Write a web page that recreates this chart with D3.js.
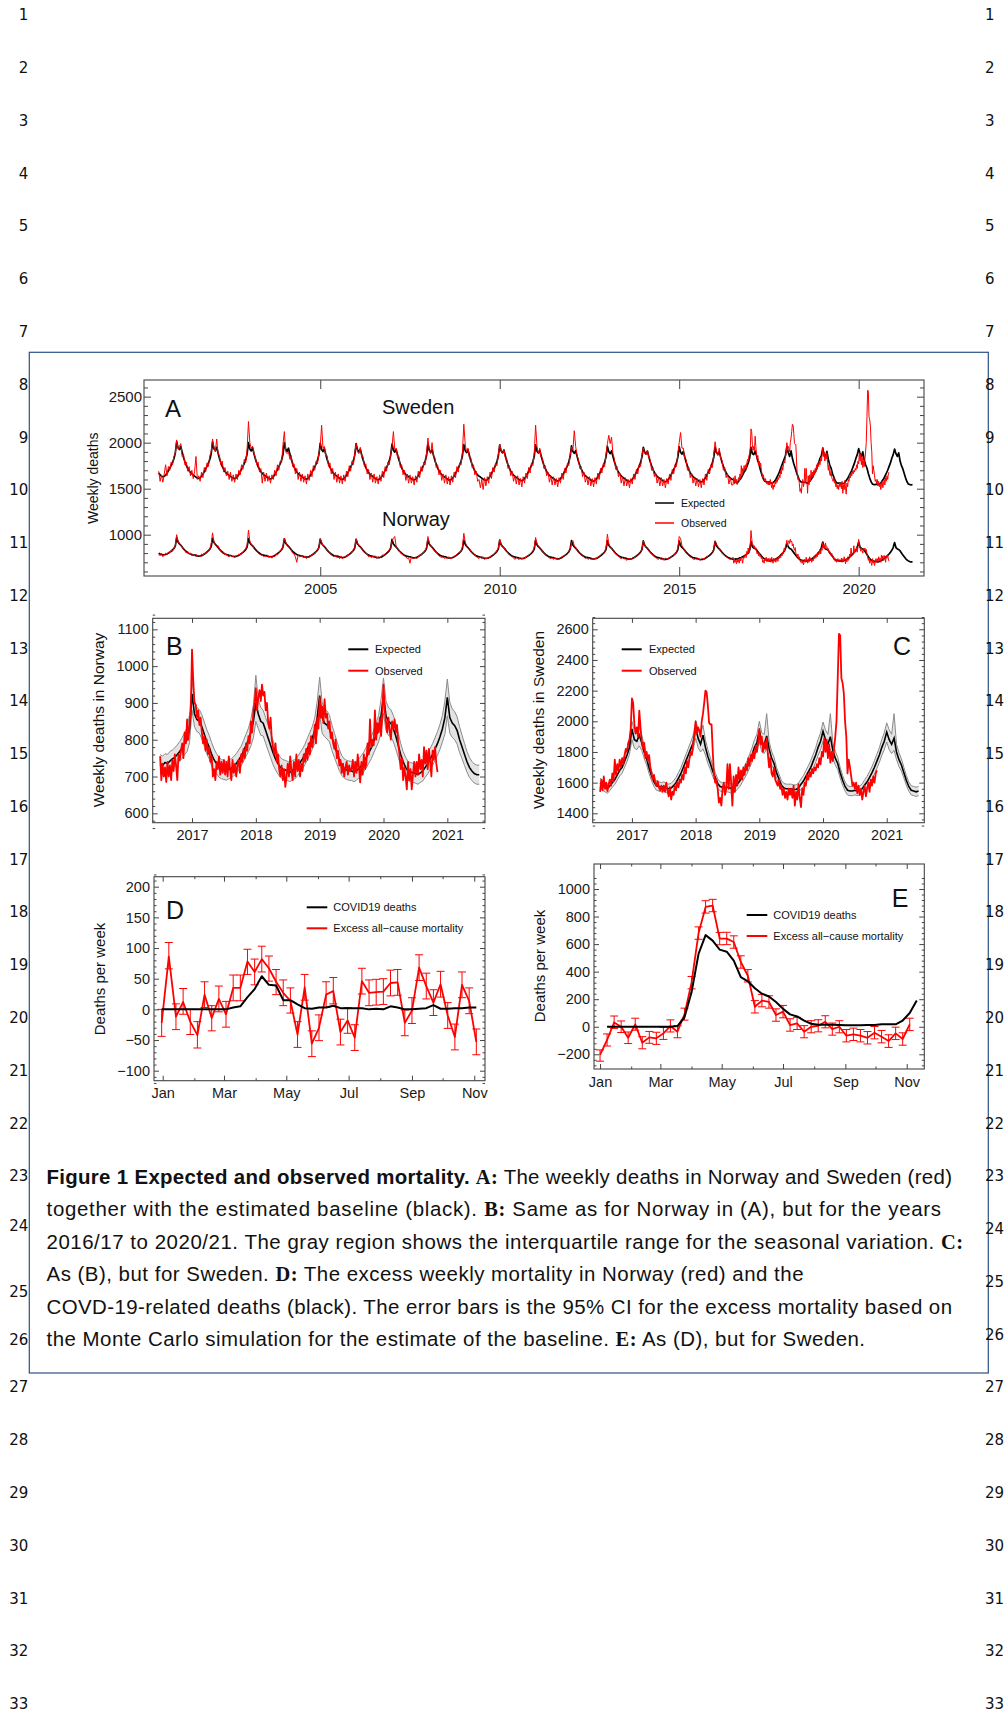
<!DOCTYPE html>
<html><head><meta charset="utf-8">
<script src="https://cdn.jsdelivr.net/npm/d3@7"></script>
<style>
body{margin:0;background:#fff;}
svg{display:block;}
</style></head><body>
<svg id="fig" width="1008" height="1712"></svg>
<script>
// ---------------- DATA ----------------
// Panel A, 2000.5–2016.5, one value every 2 weeks (26 per season, season starts 1 July)
const aSweExp = [
1670,1650,1635,1630,1635,1648,1668,1695,1722,1752,1784,1825,1885,2010,1945,1925,1960,1895,1838,1792,1752,1720,1695,1676,1660,1648,
1637,1625,1615,1612,1619,1635,1657,1685,1715,1745,1777,1817,1877,2005,1935,1915,1950,1885,1828,1782,1742,1712,1687,1669,1655,1645,
1634,1622,1612,1609,1616,1632,1654,1682,1712,1742,1774,1814,1874,2000,1930,1910,1945,1880,1824,1779,1739,1709,1684,1666,1652,1642,
1631,1619,1609,1606,1613,1629,1651,1679,1709,1739,1771,1811,1871,2000,1928,1906,1940,1876,1821,1776,1736,1706,1681,1663,1649,1639,
1628,1616,1606,1603,1610,1626,1648,1676,1706,1736,1768,1808,1868,1995,1925,1903,1935,1873,1818,1773,1733,1703,1678,1660,1646,1636,
1625,1613,1603,1600,1607,1623,1645,1673,1703,1733,1765,1805,1865,1990,1922,1900,1930,1870,1815,1770,1730,1700,1675,1657,1643,1633,
1622,1610,1600,1597,1604,1620,1642,1670,1700,1730,1762,1802,1862,1985,1918,1897,1927,1867,1812,1767,1727,1697,1672,1654,1640,1630,
1620,1608,1598,1595,1602,1618,1640,1668,1698,1728,1760,1800,1860,1985,1915,1895,1925,1865,1810,1765,1725,1695,1670,1652,1638,1628,
1618,1606,1596,1593,1600,1616,1638,1666,1696,1726,1758,1798,1858,1980,1913,1893,1923,1863,1808,1763,1723,1693,1668,1650,1636,1626,
1615,1603,1593,1590,1597,1613,1635,1663,1693,1723,1755,1795,1855,1975,1910,1890,1920,1860,1805,1760,1720,1690,1665,1647,1633,1623,
1612,1600,1590,1587,1594,1610,1632,1660,1690,1720,1752,1792,1852,1975,1907,1887,1917,1857,1802,1757,1717,1687,1662,1644,1630,1620,
1609,1597,1587,1584,1591,1607,1629,1657,1687,1717,1749,1789,1849,1965,1904,1884,1914,1854,1799,1754,1714,1684,1659,1641,1627,1617,
1606,1594,1584,1581,1588,1604,1626,1654,1684,1714,1746,1786,1846,1960,1901,1881,1911,1851,1796,1751,1711,1681,1656,1638,1624,1614,
1603,1591,1581,1578,1585,1601,1623,1651,1681,1711,1743,1783,1843,1950,1898,1878,1908,1848,1793,1748,1708,1678,1653,1635,1621,1611,
1600,1588,1578,1575,1582,1598,1620,1648,1678,1708,1740,1780,1840,1955,1895,1875,1905,1845,1790,1745,1705,1675,1650,1632,1618,1608,
1598,1586,1576,1573,1580,1596,1618,1646,1676,1706,1738,1778,1838,1950,1893,1873,1903,1843,1788,1743,1703,1673,1648,1630,1616,1606];
const aSweObs = [
1690,1580,1650,1570,1660,1760,1640,1740,1700,1790,1760,1850,1880,2030,1930,1960,1990,1850,1870,1760,1790,1690,1740,1640,1700,1610,
1690,1850,1600,1640,1580,1680,1620,1730,1680,1780,1740,1860,1900,2040,1950,1900,2040,1880,1860,1760,1800,1680,1730,1640,1690,1600,
1680,1580,1650,1570,1660,1600,1700,1650,1760,1710,1820,1780,1920,2230,2000,1940,1960,1880,1840,1760,1790,1680,1720,1560,1680,1580,
1670,1580,1640,1560,1650,1600,1700,1640,1760,1700,1800,1780,1980,2120,1900,1880,1900,1820,1860,1740,1770,1660,1720,1600,1680,1580,
1660,1570,1640,1550,1660,1590,1700,1630,1750,1700,1800,1770,1880,1960,2190,1940,1960,1850,1860,1740,1780,1660,1720,1600,1680,1570,
1660,1560,1640,1550,1650,1580,1690,1630,1750,1690,1800,1760,1880,1990,1900,1880,1950,1840,1850,1740,1770,1660,1710,1600,1670,1570,
1660,1560,1630,1550,1650,1580,1690,1620,1740,1690,1790,1760,1870,1960,2120,1920,1940,1840,1850,1730,1760,1650,1700,1590,1660,1560,
1650,1560,1630,1540,1640,1570,1690,1620,1740,1690,1790,1760,1890,2050,1910,1880,2000,1850,1840,1730,1760,1650,1700,1590,1660,1560,
1650,1550,1630,1540,1640,1570,1680,1620,1740,1680,1780,1760,1900,2200,1980,1900,1940,1840,1840,1730,1760,1650,1690,1580,1600,1510,
1600,1490,1620,1530,1630,1560,1680,1610,1730,1680,1780,1750,1870,1980,1920,1880,1930,1840,1830,1720,1750,1640,1690,1580,1640,1550,
1640,1540,1610,1520,1630,1560,1670,1610,1730,1670,1780,1750,1880,2190,1960,1880,1940,1840,1830,1720,1750,1640,1680,1570,1640,1540,
1630,1540,1610,1520,1620,1560,1670,1600,1720,1670,1770,1750,1860,1950,1920,2130,1960,1860,1820,1720,1740,1630,1680,1570,1630,1540,
1630,1530,1610,1520,1620,1550,1670,1600,1720,1670,1770,1740,1870,1990,2080,1990,2060,1880,1830,1710,1740,1630,1670,1560,1630,1530,
1620,1530,1600,1510,1610,1550,1660,1600,1710,1660,1760,1740,1860,1940,1880,1870,1920,1830,1820,1700,1730,1630,1670,1560,1620,1530,
1620,1530,1600,1510,1610,1550,1660,1590,1710,1660,1760,1740,1880,2000,2110,1940,1940,1830,1820,1700,1730,1620,1670,1560,1620,1530,
1610,1520,1600,1510,1610,1540,1660,1590,1710,1660,1760,1730,1870,2010,1900,1860,1940,1830,1810,1700,1730,1620,1660,1550,1620,1540];
const aNorExp = [
800,790,785,780,782,785,790,800,810,820,835,850,875,965,920,900,885,865,845,830,815,805,795,790,785,780,
778,772,768,766,768,772,780,790,800,812,826,842,870,960,915,895,880,862,842,826,812,800,790,784,780,776,
774,768,764,762,764,768,776,786,796,808,822,838,866,958,912,892,878,860,840,824,810,798,788,782,778,774,
772,766,762,760,762,766,774,784,794,806,820,836,864,955,908,888,874,856,836,820,806,794,784,778,774,770,
768,762,758,756,758,762,770,780,790,802,816,832,860,952,905,885,870,852,832,816,802,790,780,774,770,766,
764,758,754,752,754,758,766,776,786,798,812,828,856,950,902,882,868,850,830,814,800,788,778,772,768,764,
762,756,752,750,752,756,764,774,784,796,810,826,854,948,900,880,866,848,828,812,798,786,776,770,766,762,
760,754,750,748,750,754,762,772,782,794,808,824,852,945,898,878,864,846,826,810,796,784,774,768,764,760,
758,752,748,746,748,752,760,770,780,792,806,822,850,942,895,875,860,842,822,806,792,780,770,764,760,756,
754,748,744,742,744,748,756,766,776,788,802,818,846,940,892,872,858,840,820,804,790,778,768,762,758,754,
752,746,742,740,742,746,754,764,774,786,800,816,844,938,890,870,856,838,818,802,788,776,766,760,756,752,
750,744,740,738,740,744,752,762,772,784,798,814,842,935,888,868,854,836,816,800,786,774,764,758,754,750,
748,742,738,736,738,742,750,760,770,782,796,812,840,934,886,866,852,834,814,798,784,772,762,756,752,748,
746,740,736,734,736,740,748,758,768,780,794,810,838,932,884,864,850,832,812,796,782,770,760,754,750,746,
744,738,734,732,734,738,746,756,766,778,792,808,836,930,882,862,848,830,810,794,780,768,758,752,748,744,
742,736,732,730,732,736,744,754,764,776,790,806,834,928,880,860,846,828,808,792,778,766,756,748,742,738];
const aNorObs = [
790,770,800,760,780,800,785,810,800,830,820,850,880,1000,930,900,880,870,840,830,800,820,790,800,770,790,
770,790,760,775,760,790,775,800,790,820,830,840,900,1020,920,890,870,880,840,820,800,810,780,790,770,760,
780,760,770,750,775,760,790,780,800,810,830,845,880,1050,930,890,885,850,830,820,800,790,780,775,760,770,
760,780,750,770,745,775,760,790,780,800,830,830,870,960,920,880,870,850,830,800,790,760,700,780,760,770,
760,750,770,740,765,750,775,770,795,790,820,830,860,955,920,880,870,850,830,810,800,780,770,760,780,750,
760,740,770,740,750,765,760,780,790,800,810,840,850,955,900,890,870,850,820,810,800,790,760,770,750,770,
750,770,740,760,745,760,780,770,790,800,820,830,860,930,960,980,870,850,830,810,790,780,770,760,740,750,
690,760,740,745,755,740,760,780,780,790,810,830,860,980,910,880,860,840,820,810,790,770,760,750,760,740,
750,740,760,735,750,755,760,770,790,800,810,820,870,1015,920,880,860,850,820,800,790,780,760,750,740,760,
740,760,730,745,740,750,760,770,780,790,800,830,850,950,890,870,860,840,820,800,780,770,760,750,730,750,
740,730,750,735,745,740,760,770,775,790,800,820,860,970,900,880,850,840,815,800,780,770,760,745,740,750,
730,750,735,745,730,750,760,770,770,790,800,820,840,910,935,880,860,830,810,800,780,770,760,740,750,730,
745,730,740,725,745,740,755,760,780,790,800,810,850,1005,900,870,850,830,810,790,780,770,750,740,750,735,
740,720,745,730,735,745,745,755,770,780,800,810,840,930,890,860,850,830,810,790,780,760,750,740,730,745,
725,740,720,745,735,740,750,760,770,780,790,810,850,980,960,880,850,830,800,790,770,760,750,740,725,740,
730,745,720,735,740,730,750,760,770,780,800,810,840,930,900,870,850,820,800,790,770,760,750,740,730,740];

// Panels B (Norway) and C (Sweden): 2016.5–2021.5, expected + interquartile band every 2 weeks
const bExp = [
735,730,738,735,742,748,752,760,768,778,790,800,830,925,870,855,850,835,815,795,780,760,745,735,725,720,
718,715,720,722,728,735,745,755,770,785,800,820,850,900,870,850,845,825,805,785,765,748,735,725,720,718,
715,712,718,720,728,738,748,760,775,790,805,825,860,920,860,845,840,830,805,785,765,745,730,722,718,716,
715,712,716,722,730,740,752,765,778,795,812,830,865,920,865,850,845,830,810,785,760,740,725,715,712,710,
708,705,710,715,725,735,748,760,775,790,808,830,860,915,860,845,838,825,800,780,760,740,725,715,708,705,705];
const bHigh = [
760,755,762,760,768,772,778,786,795,806,820,832,868,960,905,888,882,868,848,828,812,792,775,762,752,746,
744,740,746,748,754,762,772,782,798,815,832,856,895,975,910,888,880,860,840,818,798,778,763,752,746,744,
741,738,744,746,754,765,775,788,804,820,836,860,905,970,902,882,878,866,840,818,796,774,757,748,744,742,
741,738,742,748,757,767,780,794,808,826,845,866,910,968,905,888,882,866,845,818,790,768,752,741,738,736,
734,731,736,742,752,763,776,790,806,822,842,866,905,965,902,884,876,862,835,812,790,768,752,741,734,731,731];
const bLow = [
710,705,713,710,716,722,726,734,741,750,760,768,792,880,835,822,818,802,782,762,748,728,715,708,698,694,
692,690,694,696,702,708,718,728,742,755,768,784,805,850,830,812,810,790,770,752,732,718,707,698,694,692,
689,686,692,694,702,711,721,732,746,760,774,790,815,870,818,808,802,794,770,752,734,716,703,696,692,690,
689,686,690,696,703,713,724,736,748,764,779,794,820,872,825,812,808,794,775,752,730,712,698,689,686,684,
682,679,684,688,698,707,720,730,744,758,774,794,815,865,818,806,800,788,765,748,730,712,698,689,682,679,679];
// observed, weekly from 2016.5
const bObs = [
755,690,735,700,725,685,740,700,730,690,745,715,760,730,690,760,745,770,790,750,820,790,855,800,840,880,1045,960,900,895,860,880,840,860,820,790,810,770,800,760,780,740,755,700,720,690,740,720,755,705,740,710,
745,705,740,700,755,720,690,745,710,735,700,730,745,710,760,740,775,750,790,770,810,790,850,820,880,900,940,880,915,935,905,950,920,930,880,900,850,830,860,800,780,760,790,740,760,720,700,730,690,720,672,700,
735,700,755,715,690,740,700,760,715,745,700,735,715,760,740,775,745,790,760,810,780,800,840,790,860,830,915,860,890,845,910,860,870,830,850,805,820,790,775,800,750,770,730,745,710,735,700,725,740,705,730,715,
720,745,700,740,710,760,725,684,740,705,760,720,735,790,760,855,780,800,785,880,800,845,820,860,810,870,950,880,850,820,860,825,800,850,830,855,820,840,790,760,720,750,690,725,700,665,740,690,720,665,705,740,
700,740,705,760,720,745,700,780,735,770,720,775,740,700,770,745,780,735,712];
const cExp = [
1600,1580,1570,1560,1580,1600,1620,1650,1680,1700,1740,1780,1830,1950,1880,1870,1910,1860,1800,1755,1695,1645,1605,1580,1575,1570,
1575,1565,1560,1565,1580,1600,1630,1660,1700,1740,1780,1820,1860,1960,1890,1850,1910,1830,1770,1725,1675,1635,1595,1575,1570,1570,
1570,1565,1560,1570,1590,1610,1640,1670,1700,1740,1780,1830,1860,1940,1860,1850,1905,1820,1760,1725,1665,1625,1585,1565,1560,1560,
1560,1555,1555,1565,1590,1610,1640,1670,1700,1740,1780,1830,1870,1935,1880,1850,1900,1810,1760,1725,1665,1615,1575,1550,1545,1545,
1550,1545,1548,1560,1585,1605,1635,1665,1700,1740,1780,1830,1870,1930,1880,1850,1890,1800,1750,1715,1665,1615,1575,1550,1545,1540,1545];
const cHigh = [
1630,1610,1600,1590,1610,1630,1652,1684,1716,1738,1780,1822,1875,2000,1935,1925,1960,1910,1842,1795,1731,1677,1635,1610,1605,1600,
1605,1595,1590,1596,1612,1634,1666,1698,1740,1782,1824,1866,1910,2005,1950,1915,1975,1880,1815,1765,1710,1667,1625,1605,1600,1600,
1600,1595,1590,1602,1624,1646,1678,1710,1742,1784,1826,1880,1915,2000,1925,1915,2050,1870,1805,1765,1700,1657,1615,1595,1590,1590,
1590,1585,1585,1597,1624,1646,1678,1710,1744,1786,1828,1882,1925,1995,1945,1915,2050,1860,1805,1765,1700,1647,1605,1580,1575,1575,
1580,1575,1578,1592,1619,1641,1673,1705,1744,1786,1828,1882,1925,1990,1945,1915,2050,1850,1795,1755,1700,1647,1605,1580,1575,1570,1575];
const cLow = [
1570,1550,1540,1530,1550,1570,1588,1616,1644,1662,1700,1738,1785,1880,1825,1815,1840,1810,1758,1715,1659,1613,1575,1550,1545,1540,
1545,1535,1530,1534,1548,1566,1594,1622,1660,1698,1736,1774,1810,1890,1830,1800,1820,1780,1725,1685,1640,1603,1565,1545,1540,1540,
1540,1535,1530,1538,1556,1574,1602,1630,1658,1696,1734,1780,1805,1870,1800,1790,1820,1770,1715,1685,1630,1593,1555,1535,1530,1530,
1530,1525,1525,1533,1556,1574,1602,1630,1656,1694,1732,1778,1815,1870,1815,1790,1820,1760,1715,1685,1630,1583,1545,1520,1515,1515,
1520,1515,1518,1528,1551,1569,1597,1625,1656,1694,1732,1778,1815,1865,1815,1790,1810,1750,1705,1675,1630,1583,1545,1520,1515,1510,1515];
const cObs = [
1540,1620,1550,1640,1560,1600,1545,1590,1620,1580,1660,1610,1750,1650,1720,1680,1750,1700,1760,1720,1780,1820,1800,1860,1880,1950,2150,2120,1980,1920,1960,1900,2070,1960,1870,1820,1860,1760,1800,1740,1780,1700,1660,1620,1650,1600,1580,1610,1570,1550,1580,1540,
1580,1540,1600,1550,1510,1570,1490,1540,1520,1580,1550,1600,1570,1620,1600,1650,1620,1700,1660,1740,1700,1760,1800,1780,1860,1900,2000,1920,1960,1940,1900,2000,2050,2120,2200,2190,2100,1990,1980,1980,1800,1650,1600,1620,1560,1470,1500,1450,1560,1600,1520,1560,
1720,1560,1720,1600,1450,1640,1540,1650,1580,1700,1620,1680,1620,1700,1650,1720,1680,1760,1710,1780,1740,1800,1760,1840,1800,1860,1950,1850,1900,1800,1860,1820,1890,1780,1700,1760,1660,1640,1700,1620,1600,1580,1620,1560,1580,1520,1560,1500,1540,1490,1560,1520,
1560,1500,1580,1450,1540,1490,1590,1500,1440,1560,1520,1600,1580,1650,1620,1670,1640,1690,1660,1700,1680,1720,1700,1760,1720,1800,1770,1890,1800,1880,1760,1850,1730,1800,1740,1820,1900,2000,2280,2570,2560,2280,2250,2180,2000,1900,1660,1750,1700,1640,1580,1600,
1560,1600,1530,1580,1520,1560,1490,1540,1580,1510,1560,1600,1540,1620,1580,1640,1600,1660,1680];

// Panel D (Norway 2020), weekly from 31 Dec 2019
const dExcess = [-22,86,-12,12,-20,-42,24,-14,17,-8,35,35,78,61,82,67,45,27,14,-41,36,-56,-30,24,30,-37,-18,-46,46,27,28,29,43,44,-22,-2,68,38,11,41,-10,-45,40,14,-53];
const dLow  = [-44,66,-33,-8,-41,-63,3,-35,-4,-29,14,14,57,40,61,46,24,6,-6,-62,15,-77,-51,3,9,-58,-39,-67,25,6,7,8,22,23,-43,-23,47,17,-10,20,-31,-66,19,-7,-74];
const dHigh = [0,109,9,34,0,-20,45,6,38,13,56,56,98,82,103,87,65,48,35,-20,57,-35,-9,45,52,-16,3,-25,67,48,49,50,64,65,-1,19,89,59,32,62,11,-24,61,35,-32];
const dCovid = [0,0,0,0,0,0,0,0,0,0,3,5,20,33,54,40,39,15,15,8,2,1,3,3,6,2,2,2,2,0,1,0,5,3,0,0,1,2,7,1,1,2,2,3,3];
// Panel E (Sweden 2020), excess weekly from 1 Jan 2020, COVID-19 deaths weekly from 8 Jan 2020
const eExcess = [-205,-96,31,0,-80,17,-116,-77,-84,-48,5,-36,90,320,680,870,880,640,640,615,470,370,145,190,180,85,110,12,24,-36,0,7,36,-17,0,-65,-55,-65,-80,-43,-72,-104,-48,-89,17];
const eLow  = [-250,-140,-12,-42,-122,-25,-160,-120,-128,-92,-38,-80,48,275,635,825,835,595,596,570,425,325,100,145,135,40,65,-32,-20,-80,-44,-37,-8,-61,-44,-110,-100,-110,-125,-88,-117,-150,-93,-134,-28];
const eHigh = [-168,-52,78,42,-38,62,-72,-34,-40,-4,50,8,135,365,725,915,925,685,686,660,515,415,190,235,225,130,155,58,68,8,44,51,80,27,44,-20,-10,-20,-35,2,-27,-58,-3,-44,62];
const eCovid = [0,0,0,0,0,0,0,0,0,0,5,70,250,530,665,625,560,545,480,360,330,280,240,220,180,130,90,75,45,22,15,15,15,12,10,10,10,12,12,18,18,18,45,100,190];

// tick values / labels
const aYearTicks = [2005, 2010, 2015, 2020];
const aYTicks = [1000, 1500, 2000, 2500];
const bcYearTicks = [2017, 2018, 2019, 2020, 2021];
const bYTicks = [600, 700, 800, 900, 1000, 1100];
const cYTicks = [1400, 1600, 1800, 2000, 2200, 2400, 2600];
const dYTicks = [-100, -50, 0, 50, 100, 150, 200];
const eYTicks = [-200, 0, 200, 400, 600, 800, 1000];
const monthMajor = [0, 2, 4, 6, 8, 10];   // Jan, Mar, May, Jul, Sep, Nov
const monthMinor = [1, 3, 5, 7, 9];

// ---------------- DRAWING ----------------
const FONT = '"Liberation Sans", Arial, Helvetica, sans-serif';
const svg = d3.select('#fig');
svg.append('rect').attr('width', 1008).attr('height', 1712).attr('fill', '#fff');

function axisSet(g, scale, orient, at, values, len, fmt, fs, pad) {
  const A = {bottom: d3.axisBottom, top: d3.axisTop, left: d3.axisLeft, right: d3.axisRight}[orient];
  const ax = A(scale).tickValues(values).tickSizeInner(-len).tickSizeOuter(0).tickPadding(pad || 0)
    .tickFormat(fmt || (() => ''));
  const tr = (orient === 'bottom' || orient === 'top') ? `translate(0,${at})` : `translate(${at},0)`;
  const s = g.append('g').attr('transform', tr).call(ax);
  s.select('.domain').remove();
  s.selectAll('.tick line').attr('stroke', '#444').attr('stroke-width', 1);
  s.selectAll('.tick text').attr('font-size', fs).attr('fill', '#1a1a1a').attr('font-family', FONT);
  return s;
}
function minorVals(lo, hi, step, majors) {
  const out = [];
  for (let v = lo; v <= hi + 1e-9; v += step) if (!majors.some(m => Math.abs(m - v) < 1e-6)) out.push(v);
  return out;
}
let clipId = 0;
function makePanel(x, y, cfg) {
  const [X0, X1] = x.range(), [Y1, Y0] = y.range();
  const g = svg.append('g');
  const id = 'clip' + (clipId++);
  g.append('clipPath').attr('id', id).append('rect').attr('x', X0).attr('y', Y0).attr('width', X1 - X0).attr('height', Y1 - Y0);
  const data = g.append('g').attr('clip-path', `url(#${id})`);
  const deco = svg.append('g');
  deco.append('rect').attr('x', X0).attr('y', Y0).attr('width', X1 - X0).attr('height', Y1 - Y0)
    .attr('fill', 'none').attr('stroke', '#444').attr('stroke-width', 1.1);
  axisSet(deco, x, 'bottom', Y1, cfg.xMaj, cfg.xLen, cfg.xFmt, cfg.fs, cfg.xPad);
  axisSet(deco, x, 'top', Y0, cfg.xMaj, cfg.xLen, null, cfg.fs, 0);
  if (cfg.xMin) {
    axisSet(deco, x, 'bottom', Y1, cfg.xMin, cfg.xMinLen, null, cfg.fs, 0);
    axisSet(deco, x, 'top', Y0, cfg.xMin, cfg.xMinLen, null, cfg.fs, 0);
  }
  axisSet(deco, y, 'left', X0, cfg.yMaj, cfg.yLen, cfg.yFmt || d3.format('d'), cfg.fs, cfg.yPad);
  axisSet(deco, y, 'right', X1, cfg.yMaj, cfg.yLen, null, cfg.fs, 0);
  axisSet(deco, y, 'left', X0, cfg.yMin, cfg.yMinLen, null, cfg.fs, 0);
  axisSet(deco, y, 'right', X1, cfg.yMin, cfg.yMinLen, null, cfg.fs, 0);
  deco.selectAll('.tick text').text(function () { return this.textContent.replace('-', '\u2212'); });
  return {data, deco};
}
function text(g, s, x, y, fs, anchor) {
  return g.append('text').attr('x', x).attr('y', y).attr('font-size', fs).attr('font-family', FONT)
    .attr('fill', '#111').attr('text-anchor', anchor || 'start').text(s);
}
function yTitle(g, s, cx, cy, fs) {
  g.append('text').attr('transform', `translate(${cx},${cy}) rotate(-90)`).attr('text-anchor', 'middle')
    .attr('dominant-baseline', 'central').attr('font-size', fs).attr('font-family', FONT).attr('fill', '#111').text(s);
}
function legend(g, items, x0, x1, tx, fs, lw) {
  items.forEach(it => {
    g.append('line').attr('x1', x0).attr('x2', x1).attr('y1', it.y).attr('y2', it.y)
      .attr('stroke', it.c).attr('stroke-width', lw);
    text(g, it.t, tx, it.y + fs * 0.36, fs);
  });
}
const lineXY = (x, y) => d3.line().x(d => x(d[0])).y(d => y(d[1]));

// ----- Panel A -----
{
  const x = d3.scaleLinear().domain([2000.09, 2021.82]).range([144, 924]);
  const y = d3.scaleLinear().domain([551, 2681]).range([576, 380]);
  const P = makePanel(x, y, {
    xMaj: aYearTicks, xLen: 9, xFmt: d3.format('d'), xPad: 7, fs: 15,
    yMaj: aYTicks, yLen: 7, yMin: minorVals(600, 2600, 100, aYTicks), yMinLen: 4, yPad: 2
  });
  const swExp = aSweExp.map((v, i) => [2000.5 + i / 26, v]).concat(cExp.map((v, j) => [2016.5 + j / 26, v]));
  const swObs = aSweObs.map((v, i) => [2000.5 + i / 26, v]).concat(cObs.map((v, j) => [2016.5 + j / 52, v]));
  const noExp = aNorExp.map((v, i) => [2000.5 + i / 26, v]).concat(bExp.map((v, j) => [2016.5 + j / 26, v]));
  const noObs = aNorObs.map((v, i) => [2000.5 + i / 26, v]).concat(bObs.map((v, j) => [2016.5 + j / 52, v]));
  const L = lineXY(x, y);
  [swExp, noExp].forEach(d => P.data.append('path').attr('d', L(d)).attr('fill', 'none').attr('stroke', '#000').attr('stroke-width', 1.7).attr('stroke-linejoin', 'round'));
  [swObs, noObs].forEach(d => P.data.append('path').attr('d', L(d)).attr('fill', 'none').attr('stroke', '#ff0000').attr('stroke-width', 1.0).attr('stroke-linejoin', 'round'));
  text(P.deco, 'A', 165, 417, 24);
  text(P.deco, 'Sweden', 382, 414, 20);
  text(P.deco, 'Norway', 382, 526, 20);
  legend(P.deco, [{c: '#000', t: 'Expected', y: 503}, {c: '#ff0000', t: 'Observed', y: 523}], 655, 674, 681, 10.5, 1.5);
  yTitle(P.deco, 'Weekly deaths', 92.7, 478.3, 14);
}

// ----- Panels B and C -----
function seasonal(X0, X1, yDom, yMaj, yMinStep, exp, lo, hi, obs, letter, letterX, letterAnchor, title, titleX, leg) {
  const x = d3.scaleLinear().domain([2016.384, 2021.59]).range([X0, X1]);
  const y = d3.scaleLinear().domain(yDom).range([822.7, 618.3]);
  const P = makePanel(x, y, {
    xMaj: bcYearTicks, xLen: 4.5, xFmt: d3.format('d'), xPad: 7.5, fs: 14.5,
    yMaj: yMaj, yLen: 5, yMin: minorVals(yMaj[0] - 2 * yMinStep, yMaj[yMaj.length - 1] + 2 * yMinStep, yMinStep, yMaj), yMinLen: 2.5, yPad: 4
  });
  const tt = (j) => 2016.5 + j / 26;
  const band = d3.area().x((d, j) => x(tt(j))).y0((d, j) => y(lo[j])).y1((d, j) => y(hi[j]));
  P.data.append('path').attr('d', band(exp)).attr('fill', '#e3e3e3').attr('stroke', 'none');
  const L = lineXY(x, y);
  [lo, hi].forEach(arr => P.data.append('path').attr('d', L(arr.map((v, j) => [tt(j), v])))
    .attr('fill', 'none').attr('stroke', '#8a8a8a').attr('stroke-width', 1));
  P.data.append('path').attr('d', L(exp.map((v, j) => [tt(j), v]))).attr('fill', 'none').attr('stroke', '#000').attr('stroke-width', 1.6);
  P.data.append('path').attr('d', L(obs.map((v, j) => [2016.5 + j / 52, v]))).attr('fill', 'none').attr('stroke', '#ff0000').attr('stroke-width', 1.8).attr('stroke-linejoin', 'round');
  text(P.deco, letter, letterX, 655, 25, letterAnchor);
  legend(P.deco, [{c: '#000', t: 'Expected', y: 649.3}, {c: '#ff0000', t: 'Observed', y: 670.7}], leg[0], leg[1], leg[2], 11, 2);
  yTitle(P.deco, title, titleX, 720, 15.5);
}
seasonal(152.7, 485, [574.5, 1130], bYTicks, 20, bExp, bLow, bHigh, bObs, 'B', 166, 'start', 'Weekly deaths in Norway', 98.3, [348.3, 368.3, 375]);
seasonal(592.7, 924.3, [1338.7, 2671.7], cYTicks, 40, cExp, cLow, cHigh, cObs, 'C', 911, 'end', 'Weekly deaths in Sweden', 538.3, [621.7, 641.7, 649]);

// ----- Panels D and E -----
function excess(X0, X1, Y0, Y1, dom, yDom, yMaj, yMinStep, exc, lo, hi, cov, excStart, covStart, letter, letterX, letterY, letterAnchor, titleX, titleY, leg, xPad) {
  const x = d3.scaleTime().domain(dom).range([X0, X1]);
  const y = d3.scaleLinear().domain(yDom).range([Y1, Y0]);
  const P = makePanel(x, y, {
    xMaj: monthMajor.map(m => new Date(2020, m, 1)), xLen: 5, xFmt: d3.timeFormat('%b'), xPad: xPad, fs: 14.5,
    xMin: monthMinor.map(m => new Date(2020, m, 1)), xMinLen: 2.5,
    yMaj: yMaj, yLen: 5, yMin: minorVals(yMaj[0] - 2 * yMinStep, yMaj[yMaj.length - 1] + 2 * yMinStep, yMinStep, yMaj), yMinLen: 2.5, yPad: 4
  });
  const dE = exc.map((_, i) => d3.timeDay.offset(excStart, 7 * i));
  const dC = cov.map((_, i) => d3.timeDay.offset(covStart, 7 * i));
  const eb = P.data.append('g').attr('stroke', '#ff0000').attr('stroke-width', 1);
  dE.forEach((d, i) => {
    const xx = x(d);
    eb.append('line').attr('x1', xx).attr('x2', xx).attr('y1', y(lo[i])).attr('y2', y(hi[i]));
    eb.append('line').attr('x1', xx - 4).attr('x2', xx + 4).attr('y1', y(lo[i])).attr('y2', y(lo[i]));
    eb.append('line').attr('x1', xx - 4).attr('x2', xx + 4).attr('y1', y(hi[i])).attr('y2', y(hi[i]));
  });
  const L = d3.line().x(d => x(d[0])).y(d => y(d[1]));
  P.data.append('path').attr('d', L(dE.map((d, i) => [d, exc[i]]))).attr('fill', 'none').attr('stroke', '#ff0000').attr('stroke-width', 1.8).attr('stroke-linejoin', 'round');
  P.data.append('path').attr('d', L(dC.map((d, i) => [d, cov[i]]))).attr('fill', 'none').attr('stroke', '#000').attr('stroke-width', 2).attr('stroke-linejoin', 'round');
  text(P.deco, letter, letterX, letterY, 25, letterAnchor);
  legend(P.deco, [{c: '#000', t: 'COVID19 deaths', y: leg[3]}, {c: '#ff0000', t: 'Excess all\u2212cause mortality', y: leg[4]}], leg[0], leg[1], leg[2], 11, 2);
  yTitle(P.deco, 'Deaths per week', titleX, titleY, 15);
}
excess(154, 485, 876.7, 1080.7, [new Date(2019, 11, 23, 12), new Date(2020, 10, 11, 12)], [-116.3, 216.3], dYTicks, 10,
  dExcess, dLow, dHigh, dCovid, new Date(2019, 11, 31), new Date(2019, 11, 31), 'D', 166, 919.3, 'start', 99.3, 979, [306.7, 327.3, 333.3, 907.3, 928.3], 7);
excess(594, 924.3, 864, 1069, [new Date(2019, 11, 26), new Date(2020, 10, 18, 12)], [-306.7, 1181.5], eYTicks, 40,
  eExcess, eLow, eHigh, eCovid, new Date(2020, 0, 1), new Date(2020, 0, 8), 'E', 908.5, 907.3, 'end', 539.3, 966, [746.7, 767.3, 773.3, 915, 936], 8);

// ----- page furniture: box, line numbers, caption -----
svg.append('rect').attr('x', 29.3).attr('y', 352.3).attr('width', 959).attr('height', 1020.7)
  .attr('fill', 'none').attr('stroke', '#2c5282').attr('stroke-width', 1.2);
const lineNumbers = d3.range(1, 34);
const leftShift = {24: 1226, 25: 1292, 26: 1340};
lineNumbers.forEach(n => {
  const yc = 15.1 + (n - 1) * 52.77;
  const yl = leftShift[n] !== undefined ? leftShift[n] : yc;
  svg.append('text').attr('x', 28.3).attr('y', yl + 5.3).attr('text-anchor', 'end').attr('font-size', 15)
    .attr('font-family', '"DejaVu Sans", sans-serif').attr('fill', '#111').text(n);
  svg.append('text').attr('x', 985).attr('y', yc + 5.3).attr('font-size', 15)
    .attr('font-family', '"DejaVu Sans", sans-serif').attr('fill', '#111').text(n);
});
const caption = [
  [['b', 'Figure 1 Expected and observed mortality.'], ['n', ' '], ['s', 'A:'], ['n', ' The weekly deaths in Norway and Sweden (red)']],
  [['n', 'together with the estimated baseline (black). '], ['s', 'B:'], ['n', ' Same as for Norway in (A), but for the years']],
  [['n', '2016/17 to 2020/21. The gray region shows the interquartile range for the seasonal variation. '], ['s', 'C:']],
  [['n', 'As (B), but for Sweden. '], ['s', 'D:'], ['n', ' The excess weekly mortality in Norway (red) and the']],
  [['n', 'COVD-19-related deaths (black). The error bars is the 95% CI for the excess mortality based on']],
  [['n', 'the Monte Carlo simulation for the estimate of the baseline. '], ['s', 'E:'], ['n', ' As (D), but for Sweden.']]
];
const capEnds = [952, 941, 963, null, 952, null];
const capX = 46.5, capY0 = 1184, capDy = 32.4;
const capNodes = caption.map((parts, i) => {
  const t = svg.append('text').attr('x', capX).attr('y', capY0 + i * capDy).attr('font-size', 19)
    .attr('font-family', FONT).attr('fill', '#111').style('white-space', 'pre');
  parts.forEach(([k, s]) => {
    const sp = t.append('tspan').text(s);
    if (k === 'b') sp.attr('font-weight', 'bold');
    if (k === 's') sp.attr('font-weight', 'bold').attr('font-family', '"Liberation Serif", "DejaVu Serif", serif');
  });
  return t;
});
const natural = capNodes.map(t => t.node().getComputedTextLength());
const ratios = [];
capNodes.forEach((t, i) => { if (capEnds[i]) ratios.push((capEnds[i] - capX) / natural[i]); });
const r = d3.mean(ratios);
capNodes.forEach((t, i) => {
  const target = capEnds[i] ? capEnds[i] - capX : natural[i] * r;
  t.attr('font-size', 19 * r * 0.95).attr('textLength', target).attr('lengthAdjust', 'spacing');
});
</script></body></html>
